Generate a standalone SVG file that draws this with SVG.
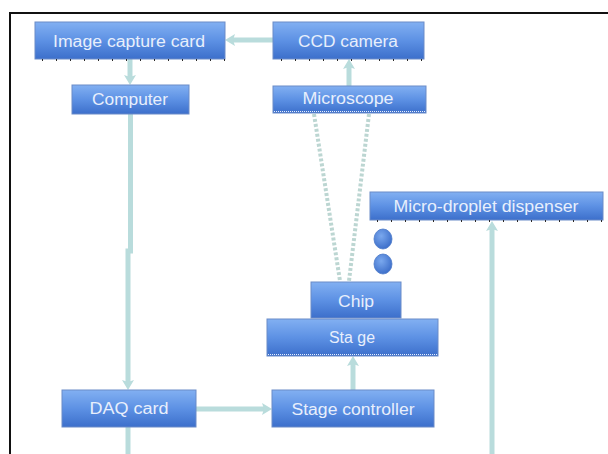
<svg xmlns="http://www.w3.org/2000/svg" width="608" height="454" viewBox="0 0 608 454">
<style>
.box{fill:url(#bg);stroke:#6a8bc8;stroke-width:1}
.lbl{font-family:"Liberation Sans",Arial,sans-serif;font-size:16px;fill:#e8effc;text-anchor:middle}
.con{fill:none;stroke:#b9dcdc;stroke-width:5}
.dash{fill:none;stroke:#bcd6d2;stroke-width:4;stroke-dasharray:3 2}
.tick{stroke:#2a2a2a;stroke-width:2;stroke-dasharray:1 13}
.dots{stroke:#e8f0ff;stroke-width:1;stroke-dasharray:1 1}
</style>
<defs>
<linearGradient id="bg" x1="0" y1="0" x2="0" y2="1">
<stop offset="0" stop-color="#82b0f2"/>
<stop offset="0.5" stop-color="#5d91e4"/>
<stop offset="1" stop-color="#3c6fcb"/>
</linearGradient>
<radialGradient id="cg" cx="0.4" cy="0.35" r="0.7">
<stop offset="0" stop-color="#7aa8ee"/>
<stop offset="1" stop-color="#3a6cc8"/>
</radialGradient>
<marker id="ah" markerUnits="userSpaceOnUse" markerWidth="10" markerHeight="12" viewBox="0 0 10 12" refX="5" refY="6" orient="auto">
<path d="M0,0 L10,6 L0,12 L2,6 z" fill="#b9dcdc"/>
</marker>
</defs>
<rect width="608" height="454" fill="#fff"/>
<path d="M10,454 V13 H608" fill="none" stroke="#111" stroke-width="2"/>

<g id="connectors">
<path class="con" d="M273,40 H230" marker-end="url(#ah)"/>
<path class="con" d="M130,59 V80" marker-end="url(#ah)"/>
<path class="con" d="M130.5,114 V251 H128 V385" marker-end="url(#ah)"/>
<path class="con" d="M128,427 V454"/>
<path class="con" d="M196,409 H267" marker-end="url(#ah)"/>
<path class="con" d="M353,390 V361" marker-end="url(#ah)"/>
<path class="con" d="M349,86 V64" marker-end="url(#ah)"/>
<path class="con" d="M492,454 V226" marker-end="url(#ah)"/>
<path class="dash" d="M314,114 L340,281"/>
<path class="dash" d="M369,114 L349,281"/>
</g>

<g id="image-capture-card">
<rect class="box" x="35" y="22" width="190" height="37"/>
<line class="tick" x1="42" y1="60" x2="225" y2="60"/>
<text class="lbl" x="129" y="47" textLength="152" lengthAdjust="spacingAndGlyphs">Image capture card</text>
</g>
<g id="ccd-camera">
<rect class="box" x="273" y="22" width="151" height="37"/>
<line class="tick" x1="281" y1="60" x2="424" y2="60"/>
<text class="lbl" x="348" y="47" textLength="100" lengthAdjust="spacingAndGlyphs">CCD camera</text>
</g>
<g id="computer">
<rect class="box" x="72" y="85" width="117" height="29"/>
<text class="lbl" x="130" y="105" textLength="76" lengthAdjust="spacingAndGlyphs">Computer</text>
</g>
<g id="microscope">
<rect class="box" x="273" y="86" width="153" height="27"/>
<line class="dots" x1="274" y1="111.5" x2="425" y2="111.5"/>
<text class="lbl" x="348" y="104" textLength="91" lengthAdjust="spacingAndGlyphs">Microscope</text>
</g>
<g id="micro-droplet-dispenser">
<rect class="box" x="370" y="192" width="233" height="28"/>
<line class="tick" x1="377" y1="221" x2="603" y2="221"/>
<text class="lbl" x="486" y="212" textLength="185" lengthAdjust="spacingAndGlyphs">Micro-droplet dispenser</text>
</g>
<g id="droplets">
<ellipse cx="383" cy="239" rx="9" ry="10" fill="url(#cg)" stroke="#4a78c8" stroke-width="0.8"/>
<ellipse cx="383" cy="264" rx="9" ry="10" fill="url(#cg)" stroke="#4a78c8" stroke-width="0.8"/>
</g>
<g id="chip">
<rect class="box" x="311" y="282" width="90" height="36"/>
<text class="lbl" x="356" y="307" textLength="36" lengthAdjust="spacingAndGlyphs">Chip</text>
</g>
<g id="stage">
<rect class="box" x="267" y="319" width="171" height="37"/>
<line class="dots" x1="268" y1="354.5" x2="437" y2="354.5"/>
<text class="lbl" x="352" y="343" textLength="46" lengthAdjust="spacingAndGlyphs">Sta ge</text>
</g>
<g id="daq-card">
<rect class="box" x="62" y="390" width="134" height="37"/>
<text class="lbl" x="129" y="414" textLength="79" lengthAdjust="spacingAndGlyphs">DAQ card</text>
</g>
<g id="stage-controller">
<rect class="box" x="272" y="390" width="162" height="37"/>
<text class="lbl" x="353" y="415" textLength="123" lengthAdjust="spacingAndGlyphs">Stage controller</text>
</g>
</svg>
